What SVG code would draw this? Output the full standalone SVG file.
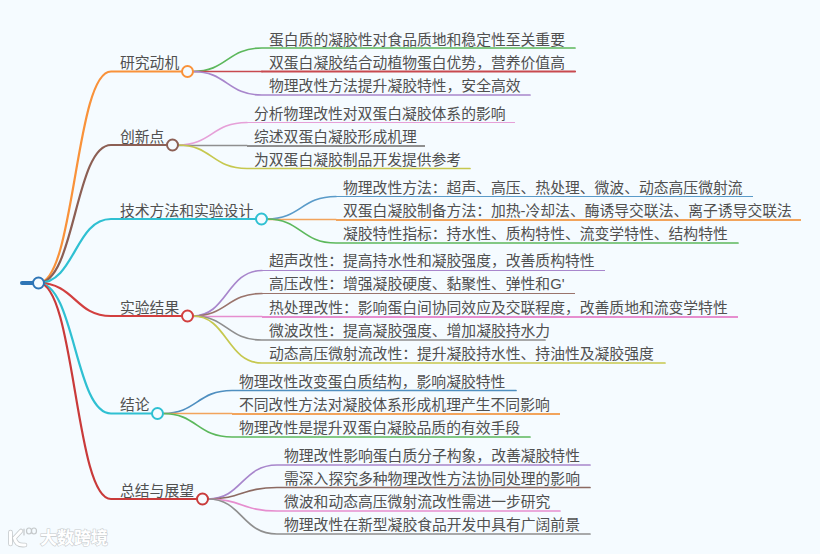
<svg xmlns="http://www.w3.org/2000/svg" width="820" height="554" viewBox="0 0 820 554">
<style>
.t{font-family:"Liberation Sans","Noto Sans CJK SC",sans-serif;font-size:14.8px;fill:#505050}
.w{font-family:"Noto Sans CJK SC",sans-serif;font-size:17px;font-weight:700;fill:#fff;stroke:#c6cacc;stroke-width:1.1;paint-order:stroke}
path{fill:none;stroke-linecap:round}
.b{stroke-width:2.2}.c{stroke-width:1.7}.h{stroke-width:1.1;stroke-linecap:butt}.k{stroke-width:2;stroke-linecap:butt}
circle{fill:#f5fbff;stroke-width:2}
</style>
<rect width="820" height="554" fill="#f5fbff"/>
<g id="connectors">
<path d="M22 283H38" stroke="#2e75b6" stroke-width="4" stroke-linecap="butt"/>
<path class="b" stroke="#f9923a" d="M38.500 283C75 283 75 71.500 111 71.500H187"/>
<path class="b" stroke="#8c5f54" d="M38.500 283C75 283 75 145 111 145H172"/>
<path class="b" stroke="#2fc0d2" d="M38.500 283C75 283 75 219 111 219H261"/>
<path class="b" stroke="#d23f3f" d="M38.500 283C75 283 75 316 111 316H187"/>
<path class="b" stroke="#2fc0d2" d="M38.500 283C75 283 75 413.500 111 413.500H157"/>
<path class="b" stroke="#c93a3a" d="M38.500 283C75 283 75 499 111 499H202"/>
<path class="c" stroke="#5cb85c" d="M193 71.500C227 71.500 227 48 262 48H575"/>
<path class="c" stroke="#c8494f" d="M193 71.500H262"/><path class="b" stroke="#c8494f" d="M262 71.500H575"/>
<path class="c" stroke="#a886cc" d="M193 71.500C227 71.500 227 95 262 95H530"/>
<path class="c" stroke="#e6a0d8" d="M178 145C212 145 212 122.500 247 122.500"/><path class="h" stroke="#e6a0d8" d="M247 122.500H515"/>
<path class="c" stroke="#8f8f8f" d="M178 145.500H247"/><path class="k" stroke="#8f8f8f" d="M247 146H425"/>
<path class="c" stroke="#c6c84f" d="M178 145C212 145 212 168.500 247 168.500H470"/>
<path class="c" stroke="#5a9bc9" d="M267 219C301 219 301 196.500 336 196.500"/><path class="h" stroke="#5a9bc9" d="M336 196.500H753"/>
<path class="c" stroke="#f2a45c" d="M267 219.500H336"/><path class="k" stroke="#f2a45c" d="M336 220H801"/>
<path class="c" stroke="#5cb85c" d="M267 219C301 219 301 243 336 243H738"/>
<path class="c" stroke="#a886cc" d="M193 316C227 316 227 270.500 262 270.500"/><path class="h" stroke="#a886cc" d="M262 270.500H605"/>
<path class="c" stroke="#9a746c" d="M193 316C227 316 227 293.500 262 293.500"/><path class="h" stroke="#9a746c" d="M262 293.500H575"/>
<path class="c" stroke="#e68ecf" d="M193 316.500H262"/><path class="k" stroke="#e68ecf" d="M262 317H738"/>
<path class="c" stroke="#8f8f8f" d="M193 316C227 316 227 340 262 340H545"/>
<path class="c" stroke="#c6c84f" d="M193 316C227 316 227 363 262 363H665"/>
<path class="c" stroke="#4f8fc0" d="M163 413.500C197 413.500 197 390.500 232 390.500H516"/>
<path class="c" stroke="#f2a45c" d="M163 413.500H232"/><path class="k" stroke="#f2a45c" d="M232 414H560"/>
<path class="c" stroke="#5cb85c" d="M163 413.500C197 413.500 197 437 232 437H530"/>
<path class="c" stroke="#a886cc" d="M208 499C242 499 242 465 277 465H590"/>
<path class="c" stroke="#8c6a62" d="M208 499C242 499 242 487.500 277 487.500H590"/>
<path class="c" stroke="#e68ecf" d="M208 499C242 499 242 511 277 511H560"/>
<path class="c" stroke="#8f8f8f" d="M208 499C242 499 242 534 277 534H590"/>
</g>
<g id="root"><circle cx="38.500" cy="283" r="5.500" stroke="#2e75b6"/></g>
<g id="n1"><text class="t" x="120" y="67.500">研究动机</text><circle cx="187.500" cy="71.500" r="5.500" stroke="#f9923a"/></g>
<g id="n2"><text class="t" x="120" y="141.500">创新点</text><circle cx="172.500" cy="145" r="5.500" stroke="#8c5f54"/></g>
<g id="n3"><text class="t" x="120" y="215.500">技术方法和实验设计</text><circle cx="261.500" cy="219" r="5.500" stroke="#2fc0d2"/></g>
<g id="n4"><text class="t" x="120" y="312.500">实验结果</text><circle cx="187.500" cy="316" r="5.500" stroke="#d23f3f"/></g>
<g id="n5"><text class="t" x="120" y="410">结论</text><circle cx="157.500" cy="413.500" r="5.500" stroke="#2fc0d2"/></g>
<g id="n6"><text class="t" x="120" y="495.500">总结与展望</text><circle cx="202.500" cy="499" r="5.500" stroke="#c93a3a"/></g>
<g id="n1-1"><text class="t" x="269" y="44.500">蛋白质的凝胶性对食品质地和稳定性至关重要</text></g>
<g id="n1-2"><text class="t" x="269" y="68">双蛋白凝胶结合动植物蛋白优势，营养价值高</text></g>
<g id="n1-3"><text class="t" x="269" y="91">物理改性方法提升凝胶特性，安全高效</text></g>
<g id="n2-1"><text class="t" x="254" y="119">分析物理改性对双蛋白凝胶体系的影响</text></g>
<g id="n2-2"><text class="t" x="254" y="142">综述双蛋白凝胶形成机理</text></g>
<g id="n2-3"><text class="t" x="254" y="165">为双蛋白凝胶制品开发提供参考</text></g>
<g id="n3-1"><text class="t" x="343" y="193">物理改性方法：超声、高压、热处理、微波、动态高压微射流</text></g>
<g id="n3-2"><text class="t" x="343" y="216">双蛋白凝胶制备方法：加热-冷却法、酶诱导交联法、离子诱导交联法</text></g>
<g id="n3-3"><text class="t" x="343" y="239">凝胶特性指标：持水性、质构特性、流变学特性、结构特性</text></g>
<g id="n4-1"><text class="t" x="269" y="266">超声改性：提高持水性和凝胶强度，改善质构特性</text></g>
<g id="n4-2"><text class="t" x="269" y="289">高压改性：增强凝胶硬度、黏聚性、弹性和G'</text></g>
<g id="n4-3"><text class="t" x="269" y="313">热处理改性：影响蛋白间协同效应及交联程度，改善质地和流变学特性</text></g>
<g id="n4-4"><text class="t" x="269" y="336">微波改性：提高凝胶强度、增加凝胶持水力</text></g>
<g id="n4-5"><text class="t" x="269" y="359">动态高压微射流改性：提升凝胶持水性、持油性及凝胶强度</text></g>
<g id="n5-1"><text class="t" x="239" y="387">物理改性改变蛋白质结构，影响凝胶特性</text></g>
<g id="n5-2"><text class="t" x="239" y="410">不同改性方法对凝胶体系形成机理产生不同影响</text></g>
<g id="n5-3"><text class="t" x="239" y="433">物理改性是提升双蛋白凝胶品质的有效手段</text></g>
<g id="n6-1"><text class="t" x="284" y="461">物理改性影响蛋白质分子构象，改善凝胶特性</text></g>
<g id="n6-2"><text class="t" x="284" y="484">需深入探究多种物理改性方法协同处理的影响</text></g>
<g id="n6-3"><text class="t" x="284" y="507">微波和动态高压微射流改性需进一步研究</text></g>
<g id="n6-4"><text class="t" x="284" y="530">物理改性在新型凝胶食品开发中具有广阔前景</text></g>
<g id="watermark">
<path d="M10.500 532V544M21 531L14.500 538Q16 546 25 545" stroke="#c6cacc" stroke-width="4.600"/>
<path d="M10.500 532V544M21 531L14.500 538Q16 546 25 545" stroke="#fff" stroke-width="3"/>
<path d="M24 529V535M26.500 531a2.500 3 0 1 0 5 0a2.500 3 0 1 0 -5 0M31.500 531a2.500 3 0 1 0 5 0a2.500 3 0 1 0 -5 0" stroke="#c4c8ca" stroke-width="1.200"/>
<text class="w" x="40" y="544">大数跨境</text></g>
</svg>
